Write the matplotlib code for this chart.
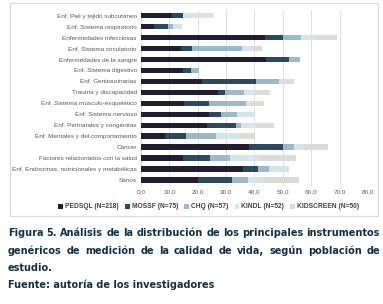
import numpy as np
import matplotlib
matplotlib.use("Agg")
import matplotlib.pyplot as plt
from matplotlib.patches import Rectangle

categorias = [
    "Enf. Piel y tejido subcutáneo",
    "Enf. Sistema respiratorio",
    "Enfermedades infecciosas",
    "Enf. Sistema circulatorio",
    "Enfermedades de la sangre",
    "Enf. Sistema digestivo",
    "Enf. Genitourinarias",
    "Trauma y discapacidad",
    "Enf. Sistema músculo-esquelético",
    "Enf. Sistema nervioso",
    "Enf. Perinatales y congénitas",
    "Enf. Mentales y del comportamiento",
    "Cáncer",
    "Factores relacionados con la salud",
    "Enf. Endocrinas, nutricionales y metabólicas",
    "Sanos",
]

pedsql = [10.8, 4.6, 43.7, 14.1, 44.0, 14.7, 21.6, 27.2, 15.1, 24.1, 23.4, 8.5, 38.0, 14.9, 36.0, 20.0]
mossf = [3.9, 5.0, 6.4, 3.7, 8.1, 2.8, 18.9, 2.4, 8.9, 4.0, 10.1, 7.3, 11.9, 9.4, 5.3, 11.9]
chq = [0.0, 1.6, 6.2, 17.9, 3.9, 2.9, 8.2, 6.8, 13.0, 5.9, 1.9, 10.6, 4.1, 7.0, 3.9, 5.7]
kindl = [11.0, 3.1, 6.1, 3.5, 0.0, 0.0, 1.8, 4.0, 1.4, 5.9, 5.0, 8.5, 3.5, 10.5, 7.0, 5.5]
kidscreen = [0.0, 0.0, 6.5, 3.6, 0.0, 0.0, 3.5, 5.0, 4.9, 0.0, 6.5, 5.0, 8.3, 12.7, 0.0, 12.5]

series = ["PEDSQL (N=218)", "MOSSF (N=75)", "CHQ (N=57)", "KINDL (N=52)", "KIDSCREEN (N=50)"]
colores = ["#201e2f", "#2c4a5d", "#9db9c7", "#d5e4eb", "#dcdcd5"]

caption = [
    "Figura 5. Análisis de la distribución de los principales instrumentos",
    "genéricos de medición de la calidad de vida, según población de",
    "estudio.",
    "Fuente: autoría de los investigadores",
]

plt.rcParams["font.family"] = ["Liberation Sans", "DejaVu Sans"]

fig = plt.figure(figsize=(3.83, 3.04), dpi=100)
fig.patch.set_facecolor("white")

# marco del grafico
fig.patches.append(Rectangle((10 / 383, 1 - 216 / 304), 368 / 383, 213 / 304,
                             transform=fig.transFigure, fill=False,
                             edgecolor="#d9d9d9", linewidth=0.8))

ax = fig.add_axes([141 / 383, 1 - 185.5 / 304, 227 / 383, 175.3 / 304])

y = np.arange(len(categorias))
izq = np.zeros(len(categorias))
datos = [pedsql, mossf, chq, kindl, kidscreen]
for vals, nombre, c in zip(datos, series, colores):
    ax.barh(y, vals, left=izq, height=0.5, color=c, label=nombre, zorder=3)
    izq += np.array(vals)

ax.set_xlim(0, 80)
ax.set_ylim(len(categorias) - 0.5, -0.5)
ax.set_xticks(np.arange(0, 81, 10))
ax.set_xticklabels([f"{v:.1f}".replace(".", ",") for v in np.arange(0, 81, 10)])
ax.set_yticks(y)
ax.set_yticklabels(categorias)
ax.tick_params(axis="both", length=0, labelsize=4.6, labelcolor="#595959", pad=3)
ax.grid(axis="x", color="#d9d9d9", linewidth=0.6, zorder=0)
for s in ["top", "right", "bottom"]:
    ax.spines[s].set_visible(False)
ax.spines["left"].set_color("#d9d9d9")
ax.spines["left"].set_linewidth(0.6)

fig.legend(loc="center", bbox_to_anchor=(0.545, 1 - 207 / 304), ncol=5, frameon=False,
           handlelength=0.7, handleheight=0.7, handletextpad=0.3,
           columnspacing=0.95, labelcolor="#404040",
           prop={"weight": "bold", "size": 4.8})

# pie de figura, justificado en las dos primeras lineas
col_cap = "#142f45"
fcap = dict(fontsize=7.05, fontweight="bold", color=col_cap, va="center", ha="left",
            family="DejaVu Sans")
x0, x1 = 8 / 383, 380 / 383
ys = [233, 251, 268, 285]
fig.canvas.draw()
rend = fig.canvas.get_renderer()
for i, (linea, yp) in enumerate(zip(caption, ys)):
    yf = 1 - yp / 304
    if i < 2:
        palabras = linea.split(" ")
        textos = [fig.text(0, yf, p, **fcap) for p in palabras]
        anchos = [t.get_window_extent(rend).width / fig.bbox.width for t in textos]
        hueco = (x1 - x0 - sum(anchos)) / (len(palabras) - 1)
        xp = x0
        for t, w in zip(textos, anchos):
            t.set_x(xp)
            xp += w + hueco
    else:
        fig.text(x0, yf, linea, **fcap)

fig.savefig("out.png", dpi=100)
